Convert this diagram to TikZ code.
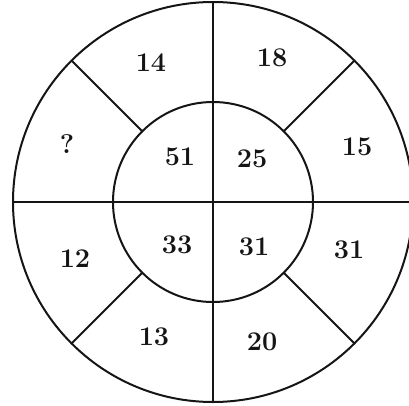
\documentclass[tikz,border=0pt]{standalone}
\usepackage{fontspec}
\usepackage{tikz}
\definecolor{Ink}{HTML}{151515}

\begin{document}
\begin{tikzpicture}[
  x=1pt, y=1pt,
  ring/.style={circle, draw=Ink, line width=2pt, inner sep=0pt, outer sep=0pt},
  spoke/.style={draw=Ink, line width=2pt},
  num/.style={font=\fontsize{27}{27}\selectfont\bfseries, text=Ink, inner sep=0pt}
]
  \useasboundingbox (-213,-203) rectangle (196,202);
  \node[ring, minimum size=400pt] (outer) at (0,0) {};
  \node[ring, minimum size=200pt] (inner) at (0,0) {};
  % cross through both circles
  \draw[spoke] (outer.north) -- (outer.south);
  \draw[spoke] (outer.west) -- (outer.east);
  % diagonals in the ring
  \draw[spoke] (inner.45) -- (outer.45);
  \draw[spoke] (inner.135) -- (outer.135);
  \draw[spoke] (inner.225) -- (outer.225);
  \draw[spoke] (inner.315) -- (outer.315);
  % outer ring numbers
  \node[num] (n14) at (-62,139) {14};
  \node[num] (n18) at (59,144) {18};
  \node[num] (n15) at (144,55) {15};
  \node[num] (n31b) at (136,-48) {31};
  \node[num] (n20) at (49,-140) {20};
  \node[num] (n13) at (-59,-135) {13};
  \node[num] (n12) at (-138,-57) {12};
  \node[num] (q) at (-146,58) {?};
  % inner circle numbers
  \node[num] (n51) at (-33,45) {51};
  \node[num] (n25) at (39,43) {25};
  \node[num] (n33) at (-36,-43) {33};
  \node[num] (n31a) at (41,-45) {31};
\end{tikzpicture}
\end{document}
